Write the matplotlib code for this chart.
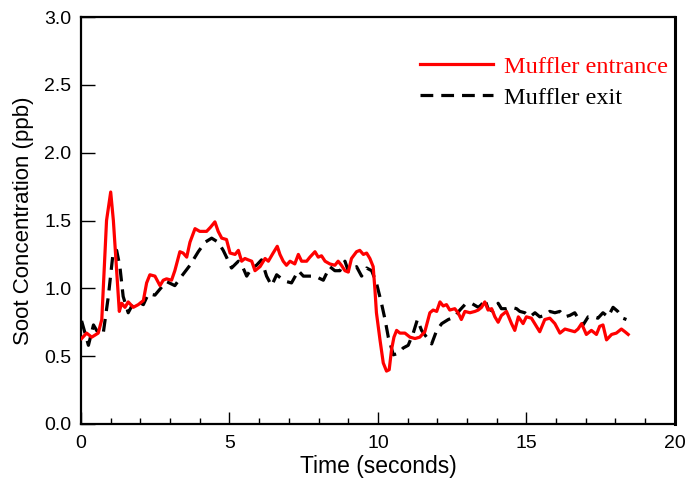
import matplotlib
matplotlib.use("Agg")
import matplotlib.pyplot as plt
from matplotlib.ticker import MultipleLocator

# Muffler entrance (red)
t_in = [0.02, 0.19, 0.36, 0.58, 0.70, 0.86, 1.00, 1.09, 1.20, 1.29, 1.37, 1.48, 1.59, 1.76, 1.93,
        2.10, 2.21, 2.32, 2.49, 2.66, 2.77, 2.88, 3.05, 3.16, 3.33, 3.44, 3.56, 3.67, 3.84, 4.00,
        4.23, 4.36, 4.51, 4.62, 4.74, 4.90, 5.02, 5.19, 5.30, 5.41, 5.52, 5.63, 5.75, 5.86, 6.03,
        6.20, 6.31, 6.47, 6.61, 6.70, 6.81, 6.92, 7.04, 7.20, 7.32, 7.43, 7.60, 7.71, 7.88, 7.99,
        8.10, 8.22, 8.38, 8.55, 8.66, 8.77, 8.89, 9.00, 9.11, 9.28, 9.39, 9.51, 9.62, 9.73, 9.84,
        9.90, 9.95, 10.07, 10.18, 10.29, 10.38, 10.46, 10.54, 10.63, 10.74, 10.91, 11.08, 11.25,
        11.41, 11.58, 11.75, 11.86, 11.98, 12.09, 12.20, 12.31, 12.42, 12.59, 12.70, 12.81, 12.93,
        13.10, 13.27, 13.38, 13.49, 13.60, 13.71, 13.83, 13.94, 14.05, 14.16, 14.33, 14.50, 14.61,
        14.73, 14.89, 15.00, 15.17, 15.34, 15.45, 15.62, 15.79, 15.96, 16.13, 16.30, 16.46, 16.63,
        16.74, 16.86, 17.02, 17.19, 17.36, 17.47, 17.58, 17.70, 17.87, 18.03, 18.20, 18.32, 18.43]
c_in = [0.63, 0.67, 0.64, 0.67, 0.77, 1.50, 1.71, 1.50, 1.13, 0.83, 0.89, 0.86, 0.90, 0.86, 0.88,
        0.91, 1.04, 1.10, 1.09, 1.02, 1.06, 1.07, 1.06, 1.13, 1.27, 1.26, 1.23, 1.34, 1.44, 1.42,
        1.42, 1.45, 1.49, 1.42, 1.37, 1.36, 1.26, 1.25, 1.28, 1.20, 1.22, 1.21, 1.20, 1.13, 1.16,
        1.22, 1.20, 1.26, 1.31, 1.25, 1.20, 1.17, 1.20, 1.18, 1.25, 1.20, 1.20, 1.23, 1.27, 1.23,
        1.24, 1.20, 1.18, 1.17, 1.20, 1.17, 1.13, 1.12, 1.22, 1.27, 1.28, 1.25, 1.26, 1.22, 1.16,
        0.99, 0.82, 0.62, 0.45, 0.39, 0.40, 0.55, 0.64, 0.69, 0.67, 0.67, 0.64, 0.63,
        0.64, 0.68, 0.82, 0.84, 0.83, 0.90, 0.87, 0.88, 0.84, 0.85, 0.82, 0.77, 0.83,
        0.82, 0.83, 0.84, 0.86, 0.90, 0.84, 0.85, 0.79, 0.75, 0.80, 0.83, 0.74, 0.69,
        0.79, 0.74, 0.79, 0.78, 0.72, 0.68, 0.77, 0.78, 0.74, 0.67, 0.70, 0.69, 0.68,
        0.70, 0.74, 0.66, 0.69, 0.66, 0.72, 0.73, 0.62, 0.66, 0.67, 0.70, 0.68, 0.66]

# Muffler exit (black dashed)
t_out = [0.02, 0.25, 0.42, 0.58, 0.75, 0.92, 1.09, 1.20, 1.31, 1.42, 1.59, 1.76, 1.93, 2.10, 2.27,
         2.49, 2.72, 2.88, 3.16, 3.39, 3.67, 3.95, 4.18, 4.40, 4.62, 4.79, 4.90, 5.07, 5.30, 5.46,
         5.58, 5.75, 5.91, 6.08, 6.25, 6.42, 6.59, 6.76, 6.92, 7.09, 7.32, 7.49, 7.71, 7.88, 8.16,
         8.38, 8.55, 8.72, 8.89, 9.00, 9.17, 9.28, 9.45, 9.62, 9.79, 9.95, 10.12, 10.24, 10.35,
         10.52, 10.68, 10.85, 11.02, 11.19, 11.33, 11.47, 11.64, 11.81, 11.98, 12.15, 12.37, 12.59,
         12.76, 12.93, 13.15, 13.38, 13.49, 13.60, 13.71, 13.88, 14.05, 14.16, 14.33, 14.50, 14.67,
         14.78, 14.95, 15.12, 15.29, 15.45, 15.62, 15.79, 15.96, 16.13, 16.30, 16.46, 16.63, 16.74,
         16.91, 17.08, 17.25, 17.41, 17.58, 17.75, 17.92, 18.08, 18.25, 18.37]
c_out = [0.76, 0.58, 0.73, 0.67, 0.67, 0.94, 1.28, 1.28, 1.16, 0.94, 0.82, 0.89, 0.90, 0.88, 0.96,
         0.95, 1.01, 1.05, 1.02, 1.09, 1.17, 1.27, 1.34, 1.37, 1.34, 1.28, 1.23, 1.15, 1.20, 1.15,
         1.09, 1.15, 1.17, 1.21, 1.09, 1.02, 1.10, 1.07, 1.05, 1.04, 1.13, 1.09, 1.09, 1.09, 1.06,
         1.16, 1.13, 1.13, 1.20, 1.13, 1.13, 1.16, 1.09, 1.15, 1.13, 1.04, 0.89, 0.77, 0.64,
         0.51, 0.52, 0.56, 0.58, 0.67, 0.77, 0.69, 0.64, 0.59, 0.69, 0.74, 0.77, 0.79,
         0.84, 0.88, 0.89, 0.86, 0.88, 0.92, 0.85, 0.83, 0.89, 0.85, 0.85, 0.86, 0.85,
         0.83, 0.82, 0.79, 0.82, 0.79, 0.80, 0.83, 0.82, 0.83, 0.79, 0.80, 0.82, 0.78,
         0.73, 0.79, 0.79, 0.78, 0.82, 0.79, 0.86, 0.83, 0.78, 0.77]

x_ticks = [0, 5, 10, 15, 20]
y_ticks = [0.0, 0.5, 1.0, 1.5, 2.0, 2.5, 3.0]

fig = plt.figure(figsize=(6.9, 4.87), dpi=100)
ax = fig.add_axes([0.1174, 0.1294, 0.978 - 0.1174, 0.965 - 0.1294])

ax.plot(t_in, c_in, color="#ff0000", lw=2.3, label="Muffler entrance", zorder=3)
ax.plot(t_out, c_out, color="black", lw=2.3, dashes=(4, 2.5), label="Muffler exit", zorder=2)

ax.set_xlim(0, 20)
ax.set_ylim(0, 3.0)
ax.set_xticks(x_ticks)
ax.set_yticks(y_ticks)
ax.set_yticklabels([f"{v:.1f}" for v in y_ticks])
ax.xaxis.set_minor_locator(MultipleLocator(1))

tickfont = "Liberation Sans"
for lab in ax.get_xticklabels() + ax.get_yticklabels():
    lab.set_fontfamily(tickfont)
    lab.set_fontsize(14)

ax.tick_params(axis="x", which="major", direction="in", length=8.5, width=1.0, pad=8,
               top=False, bottom=True)
ax.tick_params(axis="x", which="minor", direction="in", length=4.3, width=1.0, top=False)
ax.tick_params(axis="y", which="major", direction="in", length=10, width=1.0, pad=7,
               right=False, left=True)

for s in ["left", "bottom", "top"]:
    ax.spines[s].set_linewidth(1.6)
ax.spines["right"].set_linewidth(2.2)

ax.set_xlabel("Time (seconds)", fontfamily=tickfont, fontsize=16.5, labelpad=2)
ax.set_ylabel("Soot Concentration (ppb)", fontfamily=tickfont, fontsize=16, labelpad=7)

leg = ax.legend(loc="upper right", bbox_to_anchor=(1.009, 0.935), frameon=False,
                prop={"family": "Liberation Serif", "size": 17.5}, handlelength=3.0,
                handletextpad=0.45, labelspacing=0.38, borderaxespad=0.1)
leg.get_texts()[0].set_color("#ff0000")
leg.get_texts()[1].set_color("black")

fig.savefig("out.png", dpi=100)
